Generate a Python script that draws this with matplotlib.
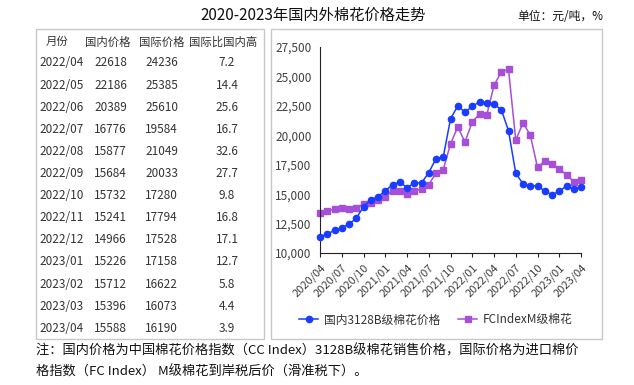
import matplotlib
matplotlib.use("Agg")
import matplotlib.pyplot as plt
from matplotlib.patches import Rectangle
from matplotlib.ticker import FuncFormatter

plt.rcParams['font.family'] = ['Noto Sans CJK SC', 'DejaVu Sans']

# monthly series 2020/04 .. 2023/04
months = []
for y in range(2020, 2024):
    for m in range(1, 13):
        if (y == 2020 and m < 4) or (y == 2023 and m > 4):
            continue
        months.append(f"{y}/{m:02d}")

domestic = [11360, 11615, 11926, 12125, 12465, 12946, 13938, 14504, 14787, 15269,
            15807, 16034, 15552, 15949, 15949, 16827, 18017, 18150, 21388, 22493,
            21955, 22465, 22833, 22720, 22618, 22186, 20389, 16776, 15877, 15684,
            15732, 15241, 14966, 15226, 15712, 15396, 15588]
international = [13371, 13598, 13711, 13796, 13768, 13796, 14193, 14249, 14504, 14759,
                 15297, 15269, 15042, 15269, 15411, 15807, 16799, 17082, 19263, 20708,
                 19433, 21133, 21813, 21728, 24236, 25385, 25610, 19584, 21049, 20033,
                 17280, 17794, 17528, 17158, 16622, 16073, 16190]

# table data
tbl_months = months[24:]
tbl_dom = domestic[24:]
tbl_int = international[24:]
tbl_pct = ["7.2", "14.4", "25.6", "16.7", "32.6", "27.7", "9.8", "16.8", "17.1",
           "12.7", "5.8", "4.4", "3.9"]
headers = ["月份", "国内价格", "国际价格", "国际比国内高"]

W, H = 634, 385
fig = plt.figure(figsize=(W / 100, H / 100), dpi=100)


def fx(px):
    return px / W


def fy(py):
    return 1 - py / H


# panels
for x0, x1 in [(36, 264), (271, 602)]:
    fig.patches.append(Rectangle((fx(x0), fy(339)), fx(x1 - x0), (339 - 29) / H,
                                 transform=fig.transFigure, fill=False,
                                 edgecolor="#c8c8c8", linewidth=1))

fig.text(fx(313), fy(15), "2020-2023年国内外棉花价格走势", ha="center", va="center",
         fontsize=11, color="#111111")
fig.text(fx(603), fy(16), "单位：元/吨，%", ha="right", va="center",
         fontsize=8.5, color="#111111")

# table
tc = "#333333"
for x, h in zip([57, 108, 162, 223], headers):
    fig.text(fx(x), fy(42), h, ha="center", va="center", fontsize=8.2, color=tc)
for i in range(len(tbl_months)):
    yy = fy(63 + i * 22.1)
    fig.text(fx(39), yy, tbl_months[i], ha="left", va="center", fontsize=8.5, color=tc)
    fig.text(fx(94), yy, str(tbl_dom[i]), ha="left", va="center", fontsize=8.5, color=tc)
    fig.text(fx(145), yy, str(tbl_int[i]), ha="left", va="center", fontsize=8.5, color=tc)
    fig.text(fx(227), yy, tbl_pct[i], ha="center", va="center", fontsize=8.5, color=tc)

# chart
ax = fig.add_axes([fx(320), fy(253), fx(581 - 320), (253 - 47) / H])
xs = list(range(len(months)))
ax.plot(xs, domestic, color="#1a3cff", marker="o", markersize=4.5, linewidth=1.1,
        label="国内3128B级棉花价格", clip_on=False, zorder=3)
ax.plot(xs, international, color="#a64fd8", marker="s", markersize=4.5, linewidth=1.1,
        label="FCIndexM级棉花", clip_on=False, zorder=2)
ax.set_xlim(0, len(months) - 1)
ax.set_ylim(10000, 27500)
ax.set_yticks(range(10000, 27501, 2500))
ax.yaxis.set_major_formatter(FuncFormatter(lambda v, p: f"{int(v):,}"))
ax.set_xticks(xs[::3])
ax.set_xticklabels(months[::3], rotation=45, ha="right", rotation_mode="anchor")
for s in ["top", "right"]:
    ax.spines[s].set_visible(False)
ax.spines["left"].set_color("#222222")
ax.spines["bottom"].set_color("#222222")
ax.tick_params(axis="y", length=0, pad=6, labelsize=8.5, labelcolor="#404040")
ax.tick_params(axis="x", length=3, direction="out", labelsize=8, labelcolor="#404040",
               color="#222222")

fig.legend(loc="center", bbox_to_anchor=(fx(436), fy(320)), ncol=2, frameon=False,
           fontsize=8.5, handlelength=1.6, columnspacing=1.5, handletextpad=0.5,
           labelcolor="#333333")

# footnote
fig.text(fx(36), fy(351), "注：国内价格为中国棉花价格指数（CC Index）3128B级棉花销售价格，国际价格为进口棉价",
         ha="left", va="center", fontsize=9.5, color="#111111")
fig.text(fx(36), fy(372), "格指数（FC Index） M级棉花到岸税后价（滑准税下）。",
         ha="left", va="center", fontsize=9.5, color="#111111")

fig.savefig("out.png", dpi=100)
